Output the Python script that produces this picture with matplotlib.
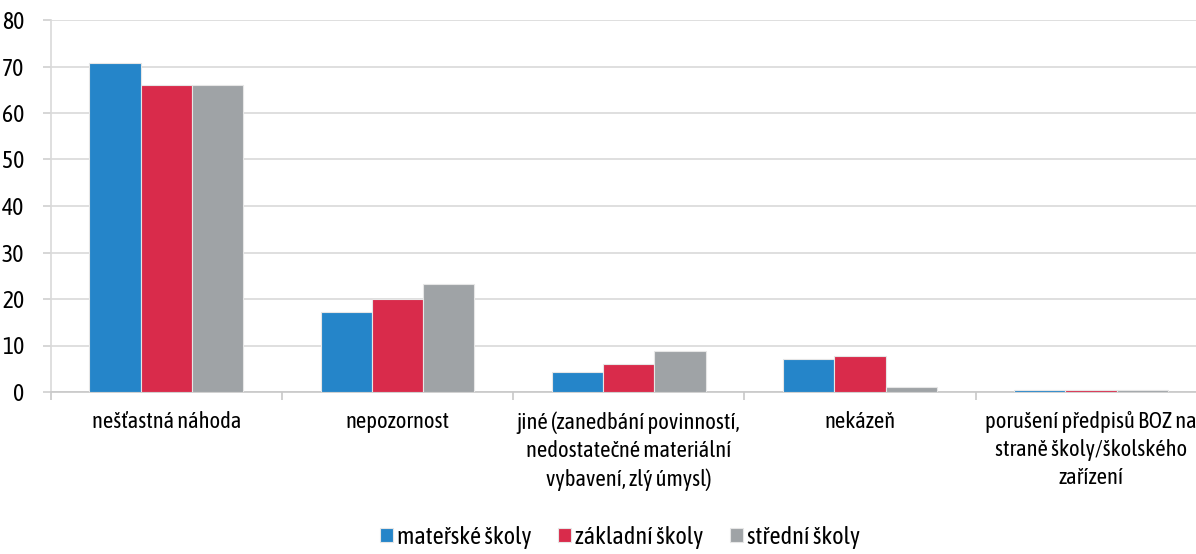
import matplotlib
matplotlib.use("Agg")
import matplotlib.pyplot as plt
import numpy as np

plt.rcParams['font.family'] = ['Asap Condensed', 'DejaVu Sans']

categories = [
    "nešťastná náhoda",
    "nepozornost",
    "jiné (zanedbání povinností,\nnedostatečné materiální\nvybavení, zlý úmysl)",
    "nekázeň",
    "porušení předpisů BOZ na\nstraně školy/školského\nzařízení",
]
series_names = ["mateřské školy", "základní školy", "střední školy"]
materske = [70.7, 17.1, 4.4, 7.1, 0.5]
zakladni = [66.1, 19.9, 6.0, 7.7, 0.5]
stredni = [66.1, 23.2, 8.8, 1.0, 0.5]
colors = ["#2585C9", "#D92B4B", "#9FA3A6"]

fig = plt.figure(figsize=(11.96, 5.54), dpi=100)
ax = fig.add_axes([50.7 / 1196, 162 / 554, 1156 / 1196, 372 / 554])

x = np.arange(len(categories))
w = 0.222
for i, (vals, c, name) in enumerate(zip([materske, zakladni, stredni], colors, series_names)):
    ax.bar(x + (i - 1) * w, vals, width=w, color=c, edgecolor="#E6E6E6",
           linewidth=0.8, label=name, zorder=3)

ax.set_xlim(-0.5, len(categories) - 0.5)
ax.set_ylim(0, 80)
ax.set_yticks(range(0, 81, 10))
ax.grid(axis="y", color="#D9D9D9", linewidth=1.2, zorder=0)

ax.set_xticks(x)
ax.set_xticklabels(categories, fontsize=16.3, linespacing=1.35)
ax.set_xticks(np.arange(len(categories) + 1) - 0.5, minor=True)
ax.tick_params(axis="x", which="major", length=0, pad=14)
ax.tick_params(axis="x", which="minor", length=6, color="#C8C8C8", width=1.2)
ax.tick_params(axis="y", length=6, color="#D0D0D0", width=1.2, labelsize=17, pad=13)

for s in ["top", "right"]:
    ax.spines[s].set_visible(False)
ax.spines["left"].set_color("#D9D9D9")
ax.spines["left"].set_linewidth(1.2)
ax.spines["bottom"].set_color("#C8C8C8")
ax.spines["bottom"].set_linewidth(1.2)

fig.legend(loc="lower center", bbox_to_anchor=(620 / 1196, -0.03), ncol=3,
           frameon=False, fontsize=17.5, handlelength=0.55, handleheight=0.55,
           handletextpad=0.15, columnspacing=1.1)

fig.savefig("out.png", dpi=100)
